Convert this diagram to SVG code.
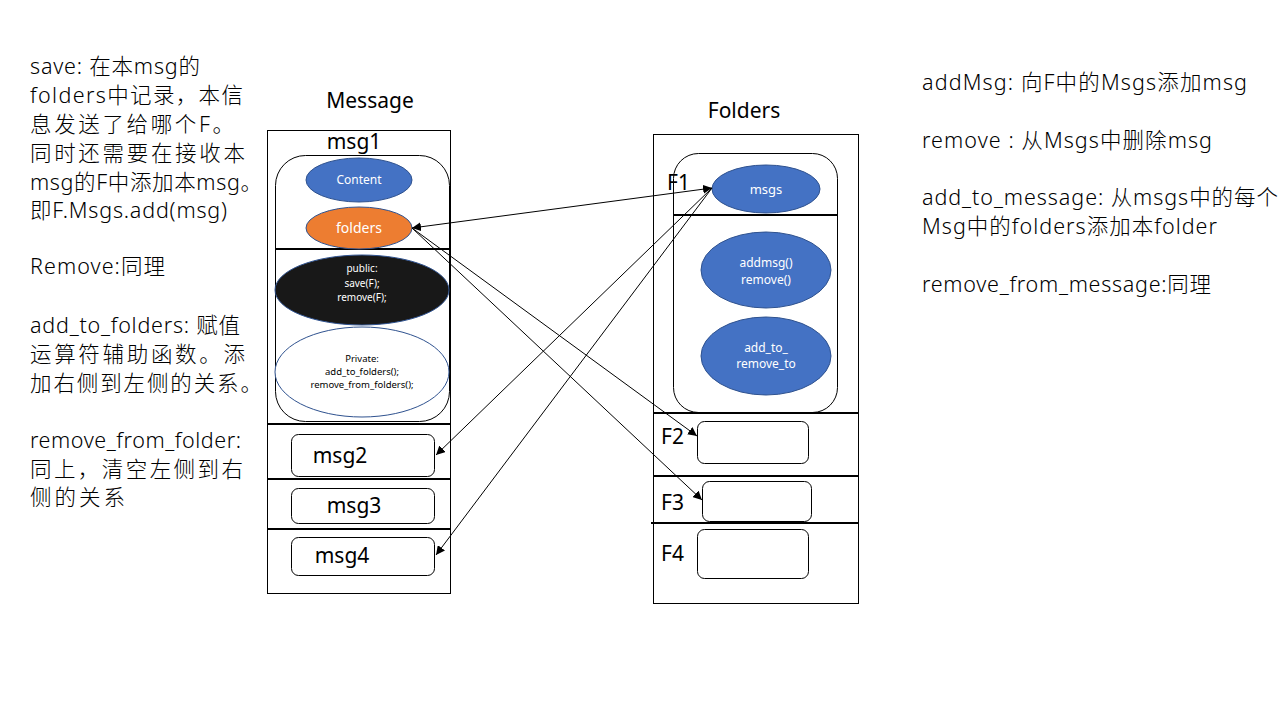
<svg xmlns="http://www.w3.org/2000/svg" width="1280" height="720" viewBox="0 0 1280 720">
<defs>
<marker id="ah" viewBox="0 0 10 10" refX="10" refY="5" markerWidth="9" markerHeight="9" markerUnits="userSpaceOnUse" orient="auto-start-reverse">
<path d="M0,0 L10,5 L0,10 z" fill="#000"/>
</marker>
</defs>
<style>
text{font-family:"Noto Sans","Noto Sans CJK SC",sans-serif;fill:#000}
.note{font-size:21.5px;font-family:"Noto Sans CJK SC","Noto Sans",sans-serif;font-weight:300}
.lbl{font-size:21px}
.box{fill:#fff;stroke:#000;stroke-width:1}
.sep{stroke:#000;stroke-width:2}
.rr{fill:none;stroke:#000;stroke-width:1}
.blue{fill:#4472C4;stroke:#2F528F;stroke-width:1}
.w{fill:#fff;text-anchor:middle}
.k{fill:#000;text-anchor:middle}
.conn{stroke:#000;stroke-width:1;fill:none}
</style>
<rect width="1280" height="720" fill="#fff"/>

<g id="notes-left" class="note">
<text x="30" y="74" textLength="170">save: 在本msg的</text>
<text x="30" y="103" textLength="213">folders中记录，本信</text>
<text x="30" y="132" textLength="204">息发送了给哪个F。</text>
<text x="30" y="161" textLength="215">同时还需要在接收本</text>
<text x="30" y="190" textLength="232">msg的F中添加本msg。</text>
<text x="30" y="218" textLength="197">即F.Msgs.add(msg)</text>
<text x="30" y="274" textLength="135">Remove:同理</text>
<text x="30" y="333" textLength="210">add_to_folders: 赋值</text>
<text x="30" y="362" textLength="215">运算符辅助函数。添</text>
<text x="30" y="391" textLength="232">加右侧到左侧的关系。</text>
<text x="30" y="448" textLength="211">remove_from_folder:</text>
<text x="30" y="477" textLength="213">同上，清空左侧到右</text>
<text x="30" y="505" textLength="95">侧的关系</text>
</g>

<g id="notes-right" class="note">
<text x="922" y="90" textLength="325">addMsg: 向F中的Msgs添加msg</text>
<text x="922" y="148" textLength="290">remove : 从Msgs中删除msg</text>
<text x="922" y="205" textLength="356">add_to_message: 从msgs中的每个</text>
<text x="922" y="234" textLength="295">Msg中的folders添加本folder</text>
<text x="922" y="292" textLength="289">remove_from_message:同理</text>
</g>

<g id="message">
<text class="lbl" x="370" y="108" text-anchor="middle">Message</text>
<rect class="box" x="267.5" y="130.5" width="183" height="463"/>
<text class="lbl" x="354" y="149" text-anchor="middle">msg1</text>
<rect class="rr" x="275.5" y="155.5" width="174" height="266" rx="30"/>
<line class="sep" x1="275" y1="249" x2="450" y2="249"/>
<line class="sep" x1="267" y1="424" x2="450" y2="424"/>
<line class="sep" x1="267" y1="479" x2="450" y2="479"/>
<line class="sep" x1="267" y1="529" x2="450" y2="529"/>
</g>

<g id="content">
<ellipse class="blue" cx="359" cy="180" rx="53" ry="22"/>
<text class="w" x="359" y="184" font-size="12">Content</text>
</g>
<g id="folders">
<ellipse cx="359" cy="228" rx="53" ry="21" fill="#ED7D31" stroke="#2F528F" stroke-width="1"/>
<text class="w" x="359" y="233" font-size="14">folders</text>
</g>
<g id="public">
<ellipse cx="362" cy="290" rx="87" ry="35" fill="#181818" stroke="#2F528F" stroke-width="1"/>
<text class="w" x="362" y="272" font-size="10">public:</text>
<text class="w" x="362" y="287" font-size="10">save(F);</text>
<text class="w" x="362" y="301" font-size="10">remove(F);</text>
</g>
<g id="private">
<ellipse cx="362" cy="372" rx="87" ry="45" fill="#fff" stroke="#2F528F" stroke-width="1"/>
<text class="k" x="362" y="362" font-size="9.5">Private:</text>
<text class="k" x="362" y="375" font-size="9.5">add_to_folders();</text>
<text class="k" x="362" y="388" font-size="9.5">remove_from_folders();</text>
</g>
<g id="msg2">
<rect class="rr" x="291.5" y="434.5" width="143" height="42" rx="7"/>
<text class="lbl" x="340" y="463" text-anchor="middle">msg2</text>
</g>
<g id="msg3">
<rect class="rr" x="291.5" y="488.5" width="143" height="35" rx="7"/>
<text class="lbl" x="354" y="513" text-anchor="middle">msg3</text>
</g>
<g id="msg4">
<rect class="rr" x="291.5" y="537.5" width="143" height="38" rx="7"/>
<text class="lbl" x="342" y="563" text-anchor="middle">msg4</text>
</g>

<g id="folders-box">
<text class="lbl" x="744" y="118" text-anchor="middle">Folders</text>
<rect class="box" x="653.5" y="134.5" width="205" height="469"/>
<rect class="rr" x="673.5" y="153.5" width="164" height="259" rx="25"/>
<text class="lbl" x="667" y="190" font-size="20">F1</text>
<line class="sep" x1="673" y1="215" x2="837" y2="215"/>
<line class="sep" x1="653" y1="413" x2="859" y2="413"/>
<line class="sep" x1="653" y1="476" x2="859" y2="476"/>
<line class="sep" x1="651" y1="523" x2="859" y2="523"/>
</g>
<g id="msgs">
<ellipse class="blue" cx="766" cy="189" rx="54" ry="24"/>
<text class="w" x="766" y="194" font-size="13">msgs</text>
</g>
<g id="addmsg">
<ellipse class="blue" cx="766" cy="270" rx="65" ry="38"/>
<text class="w" x="766" y="267" font-size="12">addmsg()</text>
<text class="w" x="766" y="284" font-size="12">remove()</text>
</g>
<g id="addto">
<ellipse class="blue" cx="766" cy="356" rx="65" ry="39"/>
<text class="w" x="766" y="352" font-size="12">add_to_</text>
<text class="w" x="766" y="368" font-size="12">remove_to</text>
</g>
<g id="F2">
<text class="lbl" x="661" y="444" font-size="20">F2</text>
<rect class="rr" x="697.5" y="421.5" width="111" height="42" rx="7"/>
</g>
<g id="F3">
<text class="lbl" x="661" y="510" font-size="20">F3</text>
<rect class="rr" x="702.5" y="481.5" width="109" height="40" rx="7"/>
</g>
<g id="F4">
<text class="lbl" x="661" y="561" font-size="20">F4</text>
<rect class="rr" x="697.5" y="529.5" width="111" height="49" rx="7"/>
</g>

<g id="connectors">
<line class="conn" x1="412" y1="228" x2="712" y2="188" marker-start="url(#ah)" marker-end="url(#ah)"/>
<line class="conn" x1="712" y1="188" x2="436" y2="455" marker-end="url(#ah)"/>
<line class="conn" x1="712" y1="188" x2="436" y2="555" marker-end="url(#ah)"/>
<line class="conn" x1="412" y1="228" x2="697" y2="436" marker-end="url(#ah)"/>
<line class="conn" x1="412" y1="228" x2="702" y2="500" marker-end="url(#ah)"/>
</g>
</svg>
